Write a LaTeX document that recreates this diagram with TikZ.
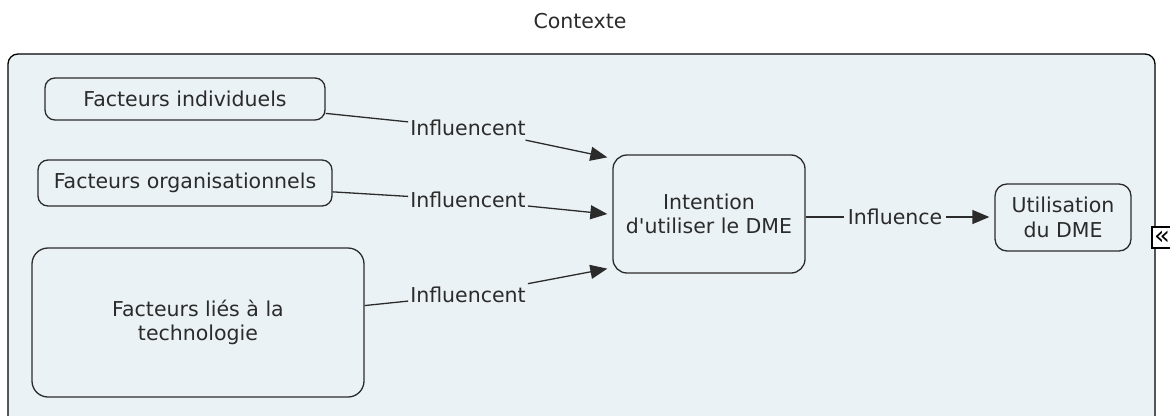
\documentclass[tikz,border=0pt]{standalone}
\usepackage{fontspec}
\setmainfont{DejaVu Sans}
\usetikzlibrary{arrows.meta}
\definecolor{bgc}{HTML}{EBF2F5}
\definecolor{ink}{HTML}{2B2B2B}
\tikzset{
  concept/.style={draw=ink, line width=1.3pt, rounded corners=10pt, align=center,
    text=ink, font=\fontsize{20.5}{24.5}\selectfont, inner sep=0pt},
  linklabel/.style={text=ink, font=\fontsize{20.5}{24.5}\selectfont, inner xsep=2pt, inner ysep=4pt},
  conn/.style={draw=ink, line width=1.3pt},
  arr/.style={conn, -{Triangle[length=17pt,width=14pt]}}
}
\begin{document}
\begin{tikzpicture}[x=1pt,y=-1pt]
\useasboundingbox (0,0) rectangle (1170,415);
\begin{scope}
\clip (0,0) rectangle (1170,415);
\draw[line width=1.3pt, fill=bgc, rounded corners=10pt] (8,54) rectangle (1155,430);
\node[draw=black, line width=1.2pt, fill=white, minimum width=20pt, minimum height=21pt, inner sep=0pt,
  font=\fontsize{26}{26}\selectfont] (mk) at (1162,237.5) {«};
\end{scope}
\node[text=ink, font=\fontsize{20.5}{24.5}\selectfont] (ctx) at (580,21) {Contexte};

\node[concept, minimum width=280pt, minimum height=42pt] (f1) at (185,99) {Facteurs individuels};
\node[concept, minimum width=294pt, minimum height=46pt] (f2) at (185,183) {Facteurs organisationnels};
\node[concept, minimum width=332pt, minimum height=149pt, rounded corners=16pt] (f3) at (198,322.5) {Facteurs liés à la\\technologie};
\node[concept, minimum width=192pt, minimum height=118pt, rounded corners=14pt] (int) at (709,214) {Intention\\d\textquotesingle utiliser le DME};
\node[concept, minimum width=136pt, minimum height=67pt, rounded corners=12pt] (util) at (1063,217.5) {Utilisation\\du DME};

\node[linklabel] (l1) at (468,128) {Influencent};
\node[linklabel] (l2) at (468,200) {Influencent};
\node[linklabel] (l3) at (468,295) {Influencent};
\node[linklabel, inner xsep=4pt] (l4) at (895,217) {Influence};

\draw[conn] (f1) -- (l1);
\draw[conn] (f2) -- (l2);
\draw[conn] (f3) -- (l3);
\draw[arr] (l1) -- ([xshift=-5pt,yshift=-3pt]int.north west);
\draw[arr] (l2) -- ([xshift=-5pt]int.west);
\draw[arr] (l3) -- ([xshift=-5pt,yshift=5pt]int.south west);
\draw[conn] (int.east |- l4) -- (l4);
\draw[arr] (l4) -- ([xshift=-5pt]util.west |- l4);
\end{tikzpicture}
\end{document}
